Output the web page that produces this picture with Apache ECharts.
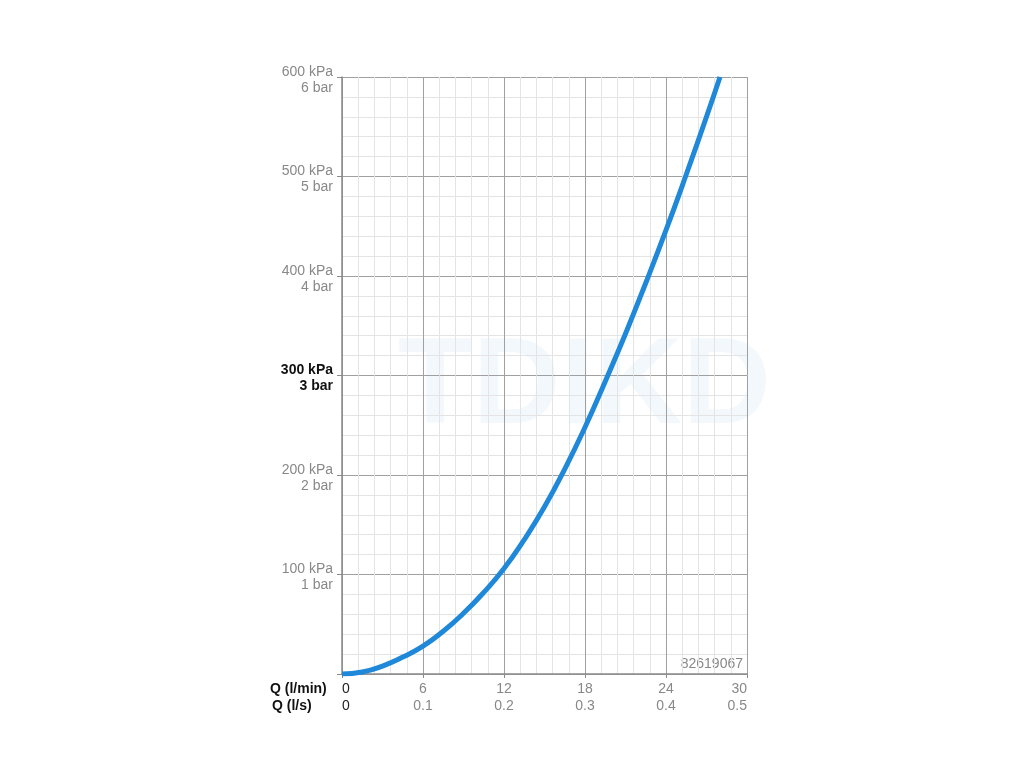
<!DOCTYPE html>
<html>
<head>
<meta charset="utf-8">
<script src="https://cdn.jsdelivr.net/npm/echarts@6/dist/echarts.min.js"></script>
<style>
  html, body { margin: 0; padding: 0; background: #fff; }
  #chart { width: 1024px; height: 768px; }
</style>
</head>
<body>
<div id="chart"></div>
<script>
var chartDom = document.getElementById('chart');
var myChart = echarts.init(chartDom);

// flow (l/min) vs pressure loss (kPa)
var flow = [0, 1.5, 3, 4.5, 6, 7.5, 9, 10.5, 12, 13.5, 15, 16.5, 18, 19.5, 21, 22.5, 24, 25.5, 27, 28];
var pressure = [0, 2, 8, 17, 28, 43, 61, 82, 106, 135, 168, 206, 248, 294, 342, 393, 446, 502, 560, 600];

// tick labels
var lpmTicks = [0, 6, 12, 18, 24, 30];
var lpsTicks = ['0', '0.1', '0.2', '0.3', '0.4', '0.5'];
var kpaTicks = [100, 200, 300, 400, 500, 600];
var barTicks = ['1 bar', '2 bar', '3 bar', '4 bar', '5 bar', '6 bar'];

var curve = flow.map(function (q, i) { return [q, pressure[i]]; });

var option = {
    animation: false,
    textStyle: { fontFamily: 'Liberation Sans, Arial, sans-serif' },
    grid: {
        left: 342,
        right: 277,
        top: 77,
        bottom: 94
    },
    xAxis: {
        type: 'value',
        min: 0,
        max: 30,
        interval: 6,
        axisLine: { show: true, onZero: false, lineStyle: { color: '#8a8a8a', width: 1.5 } },
        axisTick: { show: true, length: 4, lineStyle: { color: '#8a8a8a' } },
        axisLabel: {
            margin: 7,
            color: '#888',
            fontSize: 14,
            lineHeight: 17,
            alignMinLabel: 'left',
            alignMaxLabel: 'right',
            formatter: function (v) {
                var i = lpmTicks.indexOf(v);
                if (i < 0) return '';
                if (i === 0) return '{z|' + v + '}\n{z|' + lpsTicks[i] + '}';
                return v + '\n' + lpsTicks[i];
            },
            rich: {
                z: { color: '#222', fontSize: 14, lineHeight: 17 }
            }
        },
        splitLine: { show: true, lineStyle: { color: '#a0a0a0', width: 1 } },
        minorTick: { show: false, splitNumber: 5 },
        minorSplitLine: { show: true, lineStyle: { color: '#e4e4e4', width: 1 } }
    },
    yAxis: {
        type: 'value',
        min: 0,
        max: 600,
        interval: 100,
        axisLine: { show: true, onZero: false, lineStyle: { color: '#8a8a8a', width: 1.5 } },
        axisTick: { show: true, length: 5, lineStyle: { color: '#8a8a8a' } },
        axisLabel: {
            margin: 9,
            color: '#888',
            fontSize: 14,
            lineHeight: 16,
            align: 'right',
            padding: [6, 0, 0, 0],
            formatter: function (v) {
                var i = kpaTicks.indexOf(v);
                if (i < 0) return '';
                if (v === 300) return '{b|' + v + ' kPa}\n{b|' + barTicks[i] + '}';
                return v + ' kPa\n' + barTicks[i];
            },
            rich: {
                b: { color: '#111', fontWeight: 'bold', fontSize: 14, lineHeight: 16 }
            }
        },
        splitLine: { show: true, lineStyle: { color: '#a0a0a0', width: 1 } },
        minorTick: { show: false, splitNumber: 5 },
        minorSplitLine: { show: true, lineStyle: { color: '#e4e4e4', width: 1 } }
    },
    graphic: [
        {
            type: 'text',
            right: 1024 - 743,
            top: 657,
            style: { text: '82619067', fill: '#888', fontSize: 14, fontFamily: 'Liberation Sans, Arial' }
        },
        {
            type: 'text',
            left: 270,
            top: 682,
            style: { text: 'Q (l/min)', fill: '#111', fontSize: 14, fontWeight: 'bold', fontFamily: 'Liberation Sans, Arial' }
        },
        {
            type: 'text',
            left: 272,
            top: 699,
            style: { text: 'Q (l/s)', fill: '#111', fontSize: 14, fontWeight: 'bold', fontFamily: 'Liberation Sans, Arial' }
        },
        {
            type: 'text',
            left: 398,
            top: 328,
            z: -1,
            silent: true,
            style: { text: 'TDIKD', fill: 'rgba(190,215,238,0.18)', fontSize: 122, fontWeight: 'bold', fontFamily: 'Liberation Sans, Arial' }
        }
    ],
    series: [
        {
            name: 'Pressure loss',
            type: 'line',
            smooth: true,
            showSymbol: false,
            data: curve,
            lineStyle: { color: '#1f88d8', width: 5 },
            z: 5
        }
    ]
};

myChart.setOption(option);
</script>
</body>
</html>
